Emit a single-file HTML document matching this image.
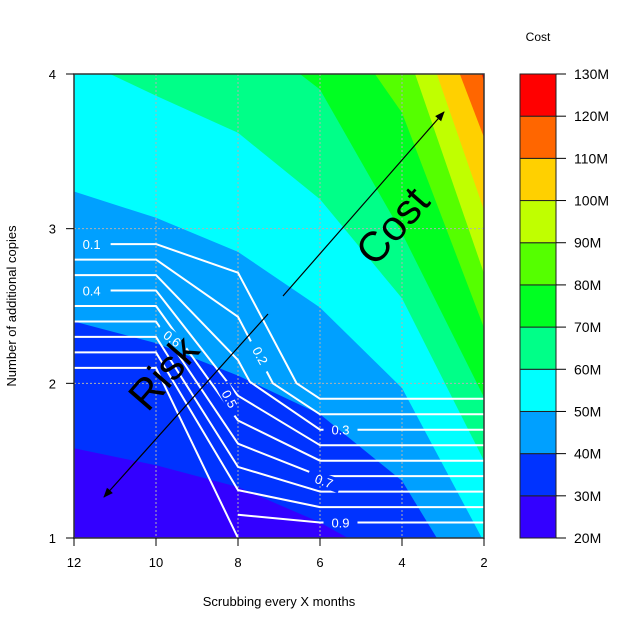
<!DOCTYPE html>
<html><head><meta charset="utf-8"><style>
html,body{margin:0;padding:0;background:#fff;}
svg{display:block;font-family:"Liberation Sans",Arial,sans-serif;}
</style></head><body>
<svg id="chart" width="630" height="630" viewBox="0 0 630 630" xmlns="http://www.w3.org/2000/svg">
<defs>
<clipPath id="plotclip"><rect x="74" y="74" width="410" height="464"/></clipPath>
<mask id="labelmask" maskUnits="userSpaceOnUse" x="0" y="0" width="630" height="630"><rect x="0" y="0" width="630" height="630" fill="#fff"/><g id="maskholes"></g></mask>
<marker id="arrowhead" markerWidth="10" markerHeight="10" refX="9" refY="5" orient="auto" markerUnits="userSpaceOnUse"><path d="M0,1 L10,5 L0,9 Z" fill="#000"/></marker>
</defs>
<g id="bands" clip-path="url(#plotclip)"></g>
<g id="grid"></g>
<g id="risklines" mask="url(#labelmask)"></g>
<g id="risklabels"></g>
<g id="annot">
<line x1="283" y1="296" x2="444" y2="112" stroke="#000" stroke-width="1.2" marker-end="url(#arrowhead)"/>
<line x1="268" y1="314" x2="104" y2="497" stroke="#000" stroke-width="1.2" marker-end="url(#arrowhead)"/>
<text x="395" y="228" font-size="42" text-anchor="middle" dominant-baseline="middle" transform="rotate(-49 395 228)">Cost</text>
<text x="166" y="375" font-size="42" text-anchor="middle" dominant-baseline="middle" transform="rotate(-49 166 375)">Risk</text>
</g>
<g id="axes"></g>
<g id="colorbar"></g>
<text x="279" y="606" font-size="13" text-anchor="middle">Scrubbing every X months</text>
<text x="16" y="306" font-size="13" text-anchor="middle" transform="rotate(-90 16 306)">Number of additional copies</text>
<text x="538" y="41" font-size="12" text-anchor="middle">Cost</text>
</svg>
<script>
const levels = [20,30,40,50,60,70,80,90,100,110,120,130];
const bandColors = ["#3300FF","#0033FF","#00A0FF","#00FFFF","#00FF88","#00FF22","#55FF00","#C0FF00","#FFD000","#FF6600","#FF0000"];
const b30 = [[12,1.58],[10,1.47],[8,1.33],[6,1.1],[5.32,1]];
const b40 = [[12,2.40],[10,2.26],[8,2.05],[6,1.80],[4,1.37],[3.15,1]];
const b50 = [[12,3.24],[10,3.07],[8,2.85],[6,2.49],[4,1.97],[2.05,1]];
const b60 = [[11.12,4],[10,3.86],[8,3.62],[6,3.19],[4,2.55],[2,1.50]];
const b70 = [[6.49,4],[6,3.90],[4,2.97],[2,1.91]];
const b80 = [[4.66,4],[4,3.75],[2,2.36]];
const b90 = [[3.68,4],[2,2.71]];
const b100 = [[3.15,4],[2,3.12]];
const b110 = [[2.59,4],[2,3.59]];
const b120 = [[2.05,4],[2,3.95]];
const boundaries = [b30,b40,b50,b60,b70,b80,b90,b100,b110,b120];
const xTicks = [12,10,8,6,4,2];
const yTicks = [1,2,3,4];
const riskLevels = [0.1,0.2,0.3,0.4,0.5,0.6,0.7,0.8,0.9];
const risk1 = [[12,2.9],[10,2.9],[8,2.715],[6.57,2.0],[6,1.9],[2,1.9]];
const risk2 = [[12,2.8],[10,2.8],[8,2.43],[7.15,2.0],[6,1.8],[2,1.8]];
const risk3 = [[12,2.7],[10,2.7],[8,2.15],[7.71,2.01],[6,1.7],[2,1.7]];
const risk4 = [[12,2.6],[10,2.6],[8,1.92],[6,1.6],[2,1.6]];
const risk5 = [[12,2.5],[10,2.5],[8,1.76],[6,1.5],[2,1.5]];
const risk6 = [[12,2.4],[10,2.4],[8,1.61],[6,1.4],[2,1.4]];
const risk7 = [[12,2.3],[10,2.3],[8,1.46],[6,1.3],[2,1.3]];
const risk8 = [[12,2.2],[10,2.2],[8,1.31],[6,1.2],[2,1.2]];
const risk9 = [[12,2.1],[10,2.1],[8,1.0]];
const risk9b = [[8,1.15],[6,1.1],[2,1.1]];
const riskLines = [risk1,risk2,risk3,risk4,risk5,risk6,risk7,risk8,risk9,risk9b];
const riskLabelText = ["0.1","0.4","0.6","0.5","0.2","0.3","0.7","0.9"];
const riskLabelPos = [[11.57,2.9],[11.57,2.6],[9.6,2.29],[8.2,1.9],[7.45,2.18],[5.5,1.7],[5.9,1.37],[5.5,1.1]];
const riskLabelRot = [0,0,38,62,62,0,20,0];
const riskLabelW = [38,38,34,34,34,34,34,34];

const NS="http://www.w3.org/2000/svg";
const X=v=>74+(12-v)*41;
const Y=v=>538-(v-1)*(464/3);
function mk(tag,attrs,parent){const e=document.createElementNS(NS,tag);for(const k in attrs)e.setAttribute(k,attrs[k]);parent.appendChild(e);return e;}

const bands=document.getElementById('bands');
const base=mk('rect',{x:74,y:74,width:410,height:464,fill:bandColors[0]},bands);


boundaries.forEach((b,i)=>{
  const pts=b.map(p=>[p[0],p[1]]);
  const end=b[b.length-1], start=b[0];
  if(Math.abs(end[1]-1)<1e-6 && end[0]>2) pts.push([2,1]);
  pts.push([2,4]);
  if(Math.abs(start[0]-12)<1e-6 && start[1]<4) pts.push([12,4]);
  const p=mk('polygon',{points:pts.map(q=>X(q[0]).toFixed(1)+','+Y(q[1]).toFixed(1)).join(' '),fill:bandColors[i+1]},bands);
  
  
});

const grid=document.getElementById('grid');
xTicks.slice(1,-1).forEach(v=>{
  const l=mk('line',{x1:X(v),y1:74,x2:X(v),y2:538,stroke:'#b0b0b0','stroke-width':1,'stroke-dasharray':'2,2'},grid);
  
  
});
yTicks.slice(1,-1).forEach(v=>{
  const l=mk('line',{x1:74,y1:Y(v),x2:484,y2:Y(v),stroke:'#b0b0b0','stroke-width':1,'stroke-dasharray':'2,2'},grid);
  
  
});

const rl=document.getElementById('risklines');
riskLines.forEach((r,i)=>{
  const pl=mk('polyline',{points:r.map(q=>X(q[0]).toFixed(1)+','+Y(q[1]).toFixed(1)).join(' '),fill:'none',stroke:'#fff','stroke-width':2,'stroke-linejoin':'round'},rl);
  
  
});
const holes=document.getElementById('maskholes');
const rlab=document.getElementById('risklabels');
riskLabelText.forEach((t,i)=>{
  const cx=X(riskLabelPos[i][0]), cy=Y(riskLabelPos[i][1]), rot=riskLabelRot[i], w=riskLabelW[i];
  mk('rect',{x:cx-w/2,y:cy-7,width:w,height:14,fill:'#000',transform:`rotate(${rot} ${cx} ${cy})`},holes);
  const tx=mk('text',{x:cx,y:cy+5,'font-size':13,'text-anchor':'middle',fill:'#fff',transform:`rotate(${rot} ${cx} ${cy})`},rlab);
  tx.textContent=t;
  
  
});

const axes=document.getElementById('axes');
const frame=mk('rect',{x:74,y:74,width:410,height:464,fill:'none',stroke:'#333','stroke-width':1.5},axes);


xTicks.forEach(v=>{
  const l=mk('line',{x1:X(v),y1:538,x2:X(v),y2:546,stroke:'#000','stroke-width':1},axes);
  
  
  const t=mk('text',{x:X(v),y:567,'font-size':13,'text-anchor':'middle'},axes);
  t.textContent=v;
  
  
});
yTicks.forEach(v=>{
  const l=mk('line',{x1:66,y1:Y(v),x2:74,y2:Y(v),stroke:'#000','stroke-width':1},axes);
  
  
  const t=mk('text',{x:56,y:Y(v)+5,'font-size':13,'text-anchor':'end'},axes);
  t.textContent=v;
  
  
});

const cb=document.getElementById('colorbar');
const CY=v=>538-(v-20)*(464/110);
bandColors.forEach((c,i)=>{
  const r=mk('rect',{x:520,y:CY(levels[i+1]),width:36,height:CY(levels[i])-CY(levels[i+1]),fill:c,stroke:'#222','stroke-width':1},cb);
  
  
});
levels.forEach(v=>{
  const l=mk('line',{x1:556,y1:CY(v),x2:566,y2:CY(v),stroke:'#000','stroke-width':1},cb);
  
  
  const t=mk('text',{x:574,y:CY(v)+5,'font-size':14},cb);
  t.textContent=v+'M';
  
  
});
</script>
</body></html>
